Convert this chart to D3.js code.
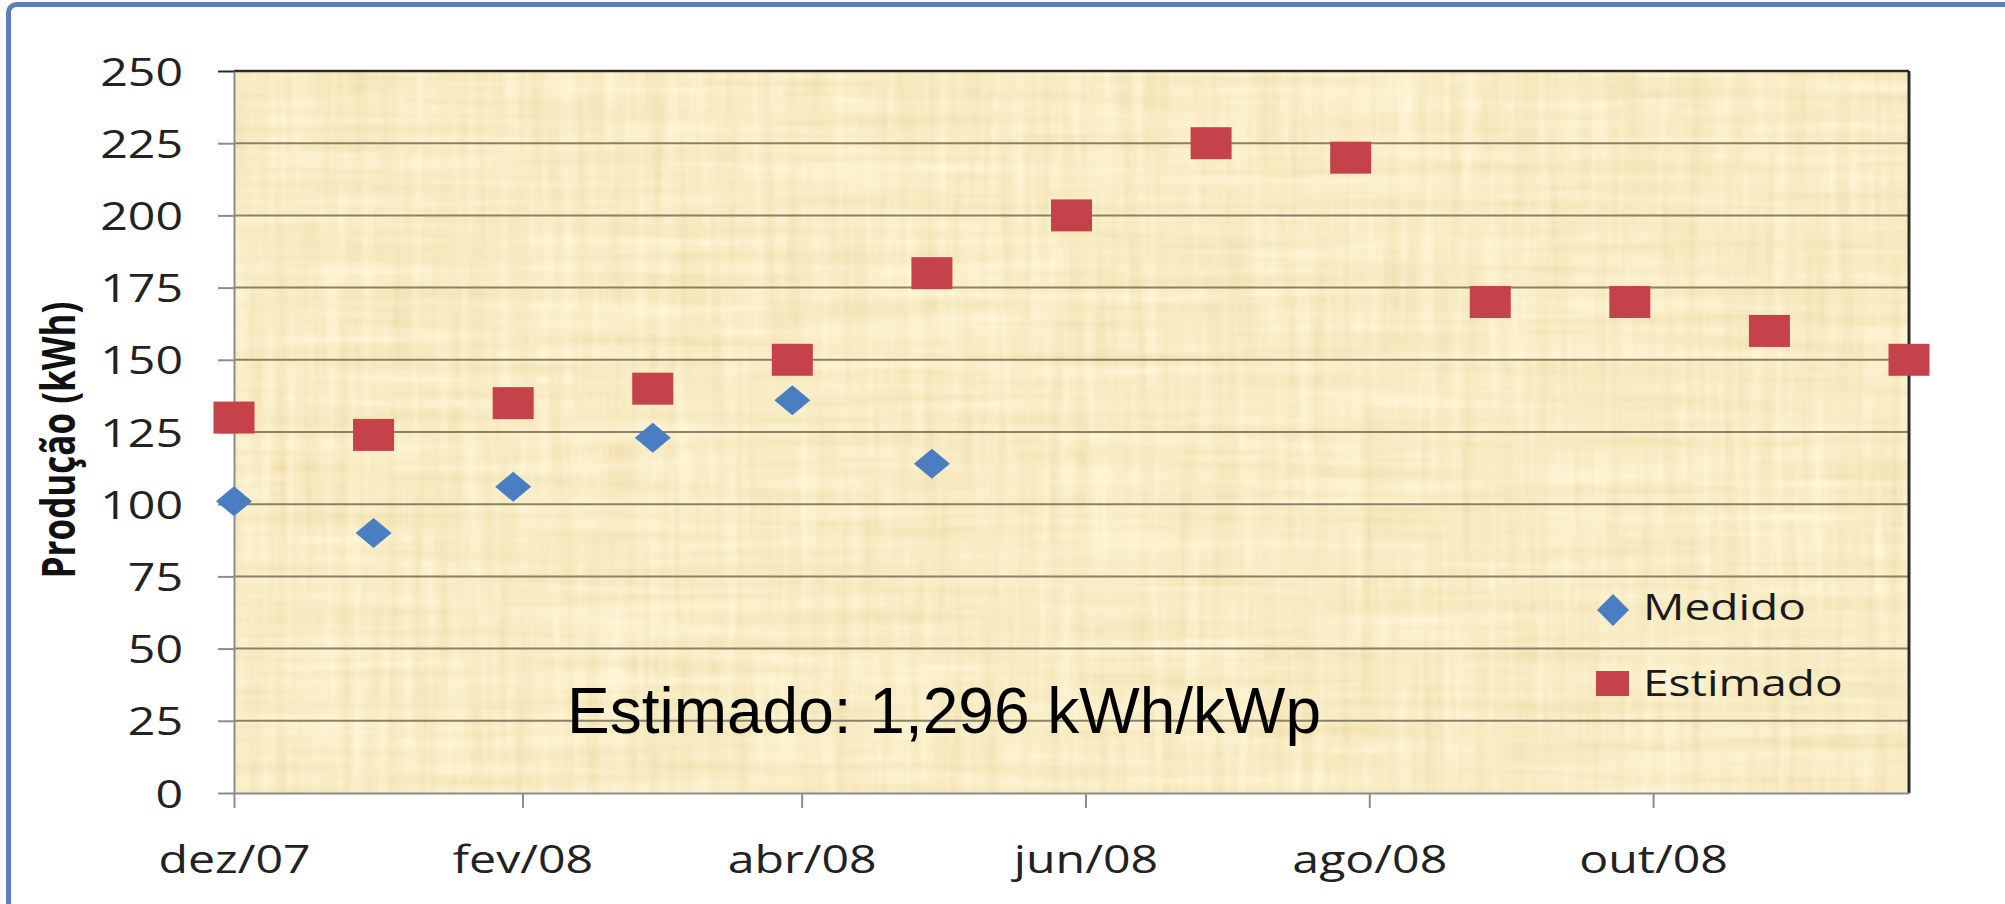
<!DOCTYPE html>
<html lang="pt">
<head>
<meta charset="utf-8">
<title>Produção mensal - medido x estimado</title>
<script src="https://cdn.jsdelivr.net/npm/d3@7"></script>
<style>
  body { margin: 0; background: #fff; }
  svg { display: block; }
</style>
</head>
<body>
<script>
// datas dos pontos (eixo de datas)
var datas = ["2007-12-01", "2007-12-31", "2008-01-30", "2008-02-29", "2008-03-30", "2008-04-29",
             "2008-05-29", "2008-06-28", "2008-07-28", "2008-08-27", "2008-09-26", "2008-10-26", "2008-11-25"];
var medido = [101, 90, 106, 123, 136, 114];
var estimado = [130, 124, 135, 140, 150, 180, 200, 225, 220, 170, 170, 160, 150];

var ticksX = ["2007-12-01", "2008-02-01", "2008-04-01", "2008-06-01", "2008-08-01", "2008-10-01"];
var rotulosX = ["dez/07", "fev/08", "abr/08", "jun/08", "ago/08", "out/08"];
var ticksY = [0, 25, 50, 75, 100, 125, 150, 175, 200, 225, 250];
var series = ["Medido", "Estimado"];
var tituloY = "Produção (kWh)";
var nota = "Estimado: 1,296 kWh/kWp";

//Width and height
var w = 2005, h = 904;
var esq = 234, dir = 1909, topo = 71, base = 793;
var esticar = 1.27;   // o texto original aparece esticado na horizontal
var azul = "#4a7ec2", vermelho = "#c5424b";

var parse = d3.utcParse("%Y-%m-%d");

var xScale = d3.scaleUtc()
  .domain([parse(datas[0]), parse(datas[datas.length - 1])])
  .range([esq, dir]);

var yScale = d3.scaleLinear()
  .domain([0, 250])
  .range([base, topo]);

var svg = d3.select("body").append("svg")
  .attr("width", w)
  .attr("height", h);

// moldura azul
svg.append("rect")
  .attr("x", 8.5).attr("y", 4.5)
  .attr("width", 2100).attr("height", 1000)
  .attr("rx", 8)
  .attr("fill", "#fff")
  .attr("stroke", "#5b80ba")
  .attr("stroke-width", 5);

// textura de papiro
var defs = svg.append("defs");
var f = defs.append("filter").attr("id", "papiro")
  .attr("x", 0).attr("y", 0).attr("width", "100%").attr("height", "100%");
f.append("feTurbulence").attr("type", "fractalNoise")
  .attr("baseFrequency", "0.004 0.08").attr("numOctaves", 3).attr("seed", 7).attr("result", "hz");
f.append("feTurbulence").attr("type", "fractalNoise")
  .attr("baseFrequency", "0.08 0.005").attr("numOctaves", 3).attr("seed", 3).attr("result", "vt");
f.append("feComposite").attr("in", "hz").attr("in2", "vt")
  .attr("operator", "arithmetic").attr("k2", 0.5).attr("k3", 0.5).attr("result", "ruido");
f.append("feColorMatrix").attr("in", "ruido").attr("type", "matrix")
  .attr("values", "0.2 0 0 0 0.84  0.3 0 0 0 0.69  0.45 0 0 0 0.33  0 0 0 0 1");

svg.append("rect")
  .attr("x", esq).attr("y", topo)
  .attr("width", dir - esq).attr("height", base - topo)
  .attr("fill", "#f0d590")
  .attr("filter", "url(#papiro)");

// linhas de grade
svg.append("g").selectAll("line")
  .data(ticksY.filter(function(d) { return d > 0 && d < 250; }))
  .enter().append("line")
  .attr("x1", esq).attr("x2", dir)
  .attr("y1", function(d) { return yScale(d); })
  .attr("y2", function(d) { return yScale(d); })
  .attr("stroke", "#8a8266")
  .attr("stroke-width", 2);

// borda superior e direita
svg.append("line").attr("x1", esq).attr("x2", dir).attr("y1", topo).attr("y2", topo)
  .attr("stroke", "#2b2b2b").attr("stroke-width", 2.5);
svg.append("line").attr("x1", dir).attr("x2", dir).attr("y1", topo).attr("y2", base)
  .attr("stroke", "#2b2b2b").attr("stroke-width", 3);

// eixo Y
var eixoY = svg.append("g")
  .attr("transform", "translate(" + esq + ",0)")
  .call(d3.axisLeft(yScale).tickValues(ticksY).tickSize(16).tickSizeOuter(0));
eixoY.select(".domain").attr("stroke", "#8c8c8c").attr("stroke-width", 2);
eixoY.selectAll(".tick line").attr("stroke", "#8c8c8c").attr("stroke-width", 2);
eixoY.selectAll("text")
  .attr("x", -51 / esticar)
  .attr("dy", "0.37em")
  .attr("transform", "scale(" + esticar + ",1)")
  .attr("font-family", "'Open Sans', sans-serif")
  .attr("font-size", "38px")
  .attr("fill", "#222");
eixoY.select(".tick:last-of-type line").attr("stroke", "#2b2b2b");

// eixo X
var eixoX = svg.append("g")
  .attr("transform", "translate(0," + base + ")")
  .call(d3.axisBottom(xScale)
    .tickValues(ticksX.map(parse))
    .tickFormat(function(d, i) { return rotulosX[i]; })
    .tickSize(15)
    .tickSizeOuter(0));
eixoX.select(".domain").attr("stroke", "#8c8c8c").attr("stroke-width", 2);
eixoX.selectAll(".tick line").attr("stroke", "#8c8c8c").attr("stroke-width", 2);
eixoX.selectAll("text")
  .attr("y", 80)
  .attr("dy", 0)
  .attr("transform", "scale(" + esticar + ",1)")
  .attr("font-family", "'Open Sans', sans-serif")
  .attr("font-size", "38px")
  .attr("fill", "#222");

// título do eixo Y
svg.append("text")
  .attr("transform", "translate(75,440) rotate(-90) scale(1,1.35)")
  .attr("text-anchor", "middle")
  .attr("font-family", "'Open Sans', sans-serif")
  .attr("font-weight", "bold")
  .attr("font-size", "35px")
  .attr("fill", "#111")
  .text(tituloY);

// pontos Estimado (quadrados)
svg.append("g").selectAll("rect")
  .data(estimado)
  .enter().append("rect")
  .attr("x", function(d, i) { return xScale(parse(datas[i])) - 20.5; })
  .attr("y", function(d) { return yScale(d) - 16; })
  .attr("width", 41)
  .attr("height", 32)
  .attr("fill", vermelho);

// pontos Medido (losangos)
svg.append("g").selectAll("path")
  .data(medido)
  .enter().append("path")
  .attr("transform", function(d, i) {
    return "translate(" + xScale(parse(datas[i])) + "," + yScale(d) + ")";
  })
  .attr("d", "M0,-15L18,0L0,15L-18,0Z")
  .attr("fill", azul);

// nota
svg.append("text")
  .attr("x", 567).attr("y", 733)
  .attr("font-family", "'Liberation Sans', Arial, sans-serif")
  .attr("font-size", "64px")
  .attr("fill", "#000")
  .text(nota);

// legenda
var legenda = svg.append("g");
legenda.append("path")
  .attr("transform", "translate(1613,610)")
  .attr("d", "M0,-16L16,0L0,16L-16,0Z")
  .attr("fill", azul);
legenda.append("rect")
  .attr("x", 1596).attr("y", 671).attr("width", 33).attr("height", 25)
  .attr("fill", vermelho);
legenda.selectAll("text")
  .data(series)
  .enter().append("text")
  .attr("transform", function(d, i) {
    return "translate(1643," + (620 + i * 76) + ") scale(1.28,1)";
  })
  .attr("font-family", "'Open Sans', sans-serif")
  .attr("font-size", "36px")
  .attr("fill", "#1a1a1a")
  .text(function(d) { return d; });
</script>
</body>
</html>
